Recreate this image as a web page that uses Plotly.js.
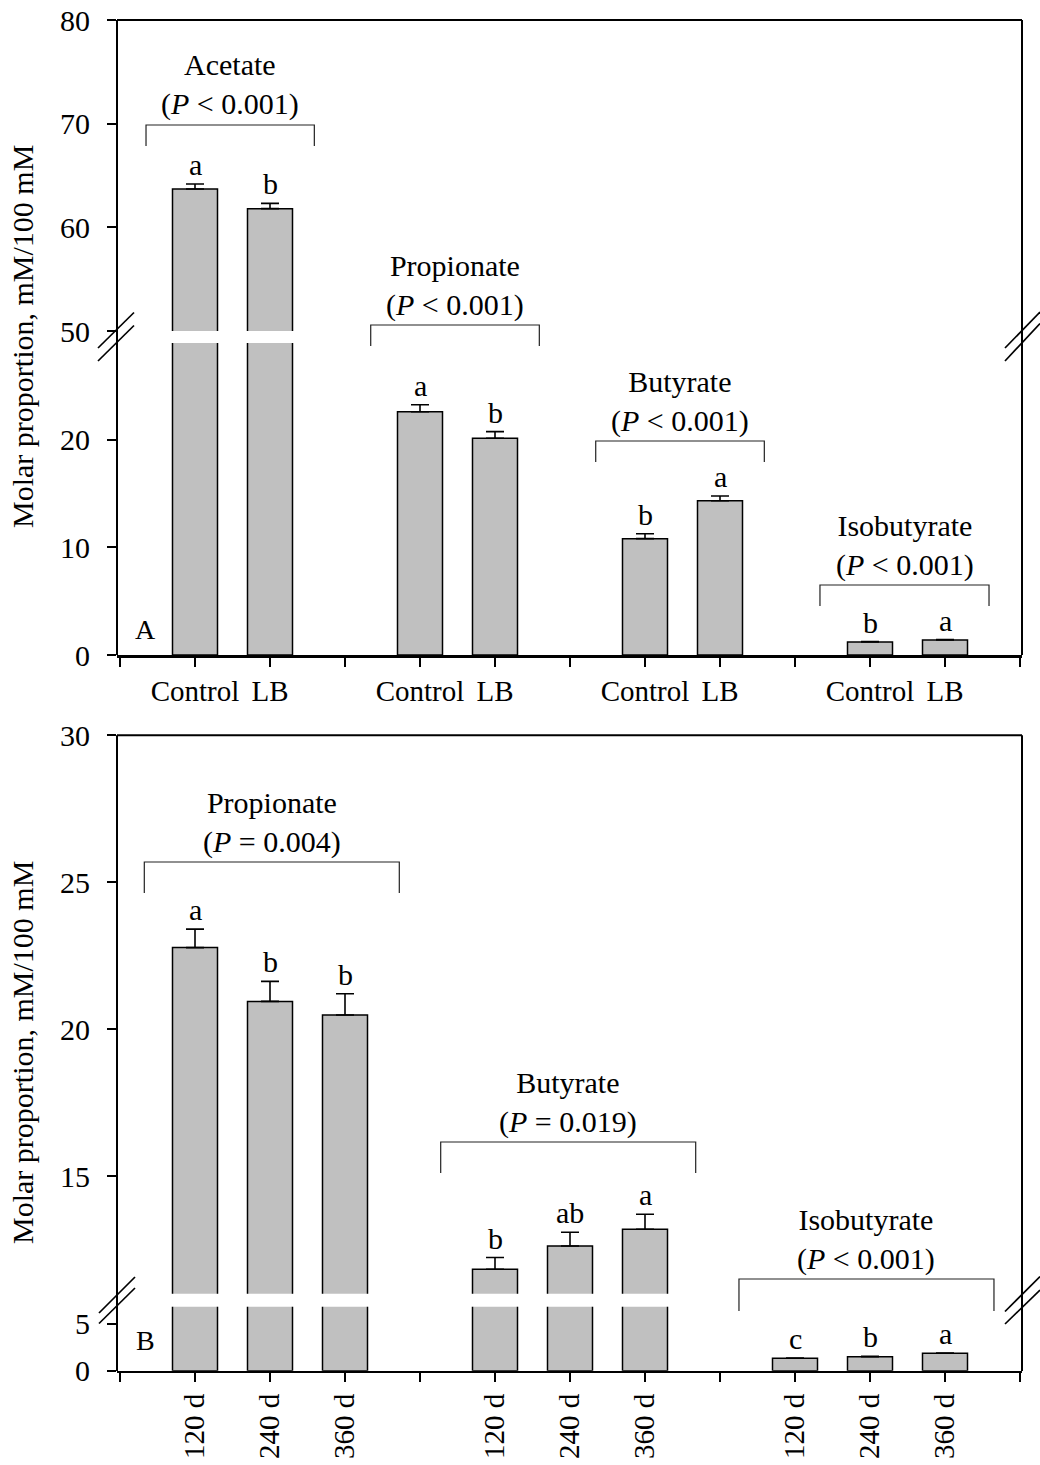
<!DOCTYPE html>
<html>
<head>
<meta charset="utf-8">
<script src="https://cdn.plot.ly/plotly-3.0.1.min.js"></script>
<style>
  html, body { margin: 0; padding: 0; background: #fff; }
  #chart { width: 1040px; height: 1465px; }
</style>
</head>
<body>
<div id="chart"></div>
<script>
// ---- Panel A: Control vs LB ----
const treatmentsA = ['Control', 'LB'];
const acidsA = ['Acetate', 'Propionate', 'Butyrate', 'Isobutyrate'];
const pTextA = ['(<i>P</i> &lt; 0.001)', '(<i>P</i> &lt; 0.001)', '(<i>P</i> &lt; 0.001)', '(<i>P</i> &lt; 0.001)'];
const acetateA = [63.7, 61.8];
const acetateErrA = [0.48, 0.51];
const acetateLetA = ['a', 'b'];
const propionateA = [22.63, 20.16];
const propionateErrA = [0.65, 0.62];
const propionateLetA = ['a', 'b'];
const butyrateA = [10.82, 14.35];
const butyrateErrA = [0.46, 0.44];
const butyrateLetA = ['b', 'a'];
const isobutyrateA = [1.21, 1.40];
const isobutyrateErrA = [0.03, 0.03];
const isobutyrateLetA = ['b', 'a'];

// ---- Panel B: storage time ----
const daysB = ['120 d', '240 d', '360 d'];
const acidsB = ['Propionate', 'Butyrate', 'Isobutyrate'];
const pTextB = ['(<i>P</i> = 0.004)', '(<i>P</i> = 0.019)', '(<i>P</i> &lt; 0.001)'];
const propionateB = [22.78, 20.95, 20.49];
const propionateErrB = [0.63, 0.68, 0.72];
const propionateLetB = ['a', 'b', 'b'];
const butyrateB = [11.84, 12.63, 13.20];
const butyrateErrB = [0.40, 0.47, 0.51];
const butyrateLetB = ['b', 'ab', 'a'];
const isobutyrateB = [1.33, 1.50, 1.86];
const isobutyrateErrB = [0.03, 0.03, 0.04];
const isobutyrateLetB = ['c', 'b', 'a'];

// ---- geometry helpers (pixel -> paper) ----
const W = 1040, H = 1465;
const px = v => v / W;
const py = v => 1 - v / H;
const FONT = '"Liberation Serif", "Times New Roman", Times, serif';
const BAR_FILL = '#c0c0c0';

// axis ranges for the broken axes
const rangeA_low = [0, 29.02], rangeA_high = [50, 80];
const rangeB_low = [0, 6.85], rangeB_high = [11.01, 30];

function buildPanel(groups, errs, letters, slot, xa, yLow, yHigh, lowTop) {
  const xs = [], ys = [], es = [];
  const ann = [];
  groups.forEach((vals, g) => {
    vals.forEach((v, i) => {
      const x = slot * g + 1 + i;
      xs.push(x); ys.push(v); es.push(errs[g][i]);
      const top = v + errs[g][i];
      ann.push({
        x: x, y: top, xref: xa, yref: top > lowTop ? yHigh : yLow,
        text: letters[g][i], showarrow: false, yanchor: 'bottom', yshift: 1,
        font: {family: FONT, size: 30, color: '#000'}
      });
    });
  });
  const base = {
    type: 'bar', x: xs, y: ys, width: 0.6, xaxis: xa, hoverinfo: 'skip',
    marker: {color: BAR_FILL, line: {color: '#000', width: 1.5}},
    error_y: {type: 'data', symmetric: false, array: es, arrayminus: es.map(() => 0),
              color: '#000', thickness: 1.6, width: 9},
    showlegend: false
  };
  return {
    traces: [Object.assign({}, base, {yaxis: yLow}), Object.assign({}, base, {yaxis: yHigh})],
    ann: ann
  };
}

const panelA = buildPanel(
  [acetateA, propionateA, butyrateA, isobutyrateA],
  [acetateErrA, propionateErrA, butyrateErrA, isobutyrateErrA],
  [acetateLetA, propionateLetA, butyrateLetA, isobutyrateLetA],
  3, 'x', 'y', 'y2', rangeA_low[1]);
const panelB = buildPanel(
  [propionateB, butyrateB, isobutyrateB],
  [propionateErrB, butyrateErrB, isobutyrateErrB],
  [propionateLetB, butyrateLetB, isobutyrateLetB],
  4, 'x2', 'y3', 'y4', rangeB_low[1]);

// tick labels under each bar
const tickValsA = [], tickTextA = [];
for (let t = 0; t <= 12; t++) {
  tickValsA.push(t);
  const r = t % 3;
  tickTextA.push(r === 0 ? '' : treatmentsA[r - 1]);
}
const tickValsB = [], tickTextB = [];
for (let t = 0; t <= 12; t++) {
  tickValsB.push(t);
  const r = t % 4;
  tickTextB.push(r === 0 ? '' : daysB[r - 1]);
}

// brackets: [left, right] in x units, horizontal bar y and leg bottom in pixels
const bracketsA = [
  {x0: 0.347, x1: 2.591, y: 125, leg: 146},
  {x0: 3.343, x1: 5.591, y: 325, leg: 346},
  {x0: 6.343, x1: 8.591, y: 441, leg: 462},
  {x0: 9.333, x1: 11.587, y: 585, leg: 606}
];
const bracketsB = [
  {x0: 0.324, x1: 3.724, y: 862, leg: 893},
  {x0: 4.276, x1: 7.676, y: 1142, leg: 1173},
  {x0: 8.253, x1: 11.653, y: 1279, leg: 1311}
];

const shapes = [];
const annotations = [].concat(panelA.ann, panelB.ann);

function addBrackets(list, names, ptext, xa) {
  list.forEach((b, i) => {
    shapes.push({
      type: 'path', xref: xa, yref: 'paper',
      path: `M ${b.x0},${py(b.leg)} L ${b.x0},${py(b.y)} L ${b.x1},${py(b.y)} L ${b.x1},${py(b.leg)}`,
      line: {color: '#222', width: 1.2}
    });
    annotations.push({
      x: (b.x0 + b.x1) / 2, xref: xa, y: py(b.y - 40), yref: 'paper',
      text: names[i] + '<br>' + ptext[i], showarrow: false,
      xanchor: 'center', yanchor: 'middle',
      font: {family: FONT, size: 30, color: '#000'}
    });
  });
}
addBrackets(bracketsA, acidsA, pTextA, 'x');
addBrackets(bracketsB, acidsB, pTextB, 'x2');

// frame lines
function line(x0, y0, x1, y1, w) {
  shapes.push({type: 'line', xref: 'paper', yref: 'paper',
    x0: px(x0), y0: py(y0), x1: px(x1), y1: py(y1),
    line: {color: '#000', width: w}});
}
// panel A frame
line(117, 20, 117, 655, 2);
line(1022, 20, 1022, 655, 2);
line(117, 20, 1022, 20, 2);
// panel B frame
line(117, 735.3, 117, 1371, 2);
line(1022, 735.3, 1022, 1371, 2);
line(117, 735.3, 1022, 735.3, 2);
// axis break marks
line(98, 348, 134, 312.5, 1.7);
line(98, 361, 134, 325.5, 1.7);
line(1005, 348, 1040, 312, 1.7);
line(1005, 361, 1040, 323.5, 1.7);
line(99, 1313, 135, 1277, 1.7);
line(99, 1323.5, 135, 1288, 1.7);
line(1005, 1311.5, 1040, 1276.5, 1.7);
line(1005, 1324, 1040, 1290, 1.7);

// y titles and panel letters
['Molar proportion, mM/100 mM', 'Molar proportion, mM/100 mM'].forEach((t, i) => {
  annotations.push({
    x: px(22), y: py(i === 0 ? 337 : 1053), xref: 'paper', yref: 'paper',
    text: t, textangle: -90, showarrow: false, xanchor: 'center', yanchor: 'middle',
    font: {family: FONT, size: 30, color: '#000'}
  });
});
[['A', 630], ['B', 1340]].forEach(([t, yy]) => {
  annotations.push({
    x: px(145), y: py(yy), xref: 'paper', yref: 'paper', text: t, showarrow: false,
    xanchor: 'center', yanchor: 'middle', font: {family: FONT, size: 28, color: '#000'}
  });
});

const xDomain = [px(117), px(1022)];
const xRange = [(117 - 120) / 75, (1022 - 120) / 75];
const yAxisCommon = {
  showgrid: false, zeroline: false, showline: false, ticks: 'outside',
  ticklen: 9, tickwidth: 2, tickcolor: '#000', fixedrange: true,
  ticklabelstandoff: 11,
  tickfont: {family: FONT, size: 30, color: '#000'}
};
const xAxisCommon = {
  domain: xDomain, range: xRange, showgrid: false, zeroline: false,
  showline: true, linecolor: '#000', linewidth: 2.5, ticks: 'outside',
  ticklen: 9, tickwidth: 2, tickcolor: '#000', tickmode: 'array', fixedrange: true,
  tickfont: {family: FONT, size: 29, color: '#000'}
};

const layout = {
  width: W, height: H,
  margin: {l: 0, r: 0, t: 0, b: 0},
  paper_bgcolor: '#fff', plot_bgcolor: 'rgba(0,0,0,0)',
  showlegend: false,
  xaxis: Object.assign({}, xAxisCommon, {anchor: 'y', tickvals: tickValsA, ticktext: tickTextA}),
  xaxis2: Object.assign({}, xAxisCommon, {anchor: 'y3', tickvals: tickValsB, ticktext: tickTextB, tickangle: -90}),
  yaxis: Object.assign({}, yAxisCommon, {anchor: 'x', domain: [py(655), py(343)], range: rangeA_low, tickvals: [0, 10, 20]}),
  yaxis2: Object.assign({}, yAxisCommon, {anchor: 'x', domain: [py(331), py(20)], range: rangeA_high, tickvals: [50, 60, 70, 80]}),
  yaxis3: Object.assign({}, yAxisCommon, {anchor: 'x2', domain: [py(1370.7), py(1306.7)], range: rangeB_low, tickvals: [0, 5]}),
  yaxis4: Object.assign({}, yAxisCommon, {anchor: 'x2', domain: [py(1293.7), py(735.3)], range: rangeB_high, tickvals: [15, 20, 25, 30]}),
  shapes: shapes,
  annotations: annotations,
  font: {family: FONT, color: '#000'}
};

Plotly.newPlot('chart', [].concat(panelA.traces, panelB.traces), layout, {staticPlot: true, displayModeBar: false});
</script>
</body>
</html>
